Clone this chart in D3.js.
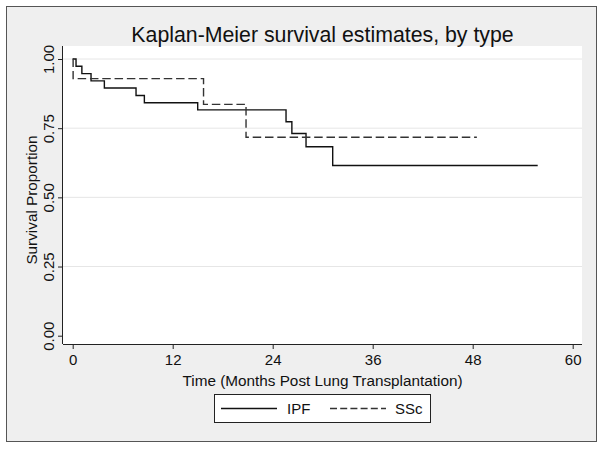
<!DOCTYPE html>
<html><head><meta charset="utf-8">
<script src="https://cdn.jsdelivr.net/npm/d3@7"></script>
<style>body{margin:0;background:#fff}svg{display:block;font-family:"Liberation Sans",Arial,sans-serif}</style>
</head><body><svg id="c" width="603" height="449"></svg>
<script>
// IPF step curve: event times (months) and survival after each step
const ipfTimes = [0, 0.4, 1.1, 2.2, 3.8, 7.6, 8.6, 15.0, 25.6, 26.3, 28.0, 31.2, 55.8];
const ipfSurv  = [1.0, 0.974, 0.947, 0.921, 0.895, 0.868, 0.842, 0.816, 0.773, 0.731, 0.683, 0.615, 0.615];
// SSc step curve
const sscTimes = [0, 0.05, 15.7, 20.8, 48.5];
const sscSurv  = [1.0, 0.929, 0.836, 0.717, 0.717];
const xTicks = [0, 12, 24, 36, 48, 60];
const yTicks = [0, 0.25, 0.5, 0.75, 1.0];
const seriesNames = ["IPF", "SSc"];

const svg = d3.select("#c");
svg.append("rect").attr("x",6.5).attr("y",6.5).attr("width",590).attr("height",435)
  .attr("fill","#efefef").attr("stroke","#555").attr("stroke-width",1);

const L=63, R=582, T=46, B=344;
svg.append("rect").attr("x",L).attr("y",T).attr("width",R-L).attr("height",B-T).attr("fill","#fff");

const x = d3.scaleLinear().domain([0,60]).range([72.7,572.7]);
const y = d3.scaleLinear().domain([0,1]).range([335.7,59]);

// gridlines
svg.append("g").selectAll("line").data(yTicks.filter(d=>d>0)).join("line")
  .attr("x1",L).attr("x2",R).attr("y1",d=>y(d)).attr("y2",d=>y(d))
  .attr("stroke","#e6e6e6").attr("stroke-width",1);

// axes
const xa = svg.append("g").attr("transform",`translate(0,${B})`)
  .call(d3.axisBottom(x).tickValues(xTicks).tickSize(5).tickPadding(5).tickFormat(d3.format("d")));
xa.select(".domain").attr("d",`M${L},0.5H${R}`).attr("stroke","#222");
xa.selectAll(".tick line").attr("stroke","#222");
xa.selectAll("text").attr("font-size",15).attr("fill","#111").attr("font-family","Liberation Sans, Arial");

const ya = svg.append("g").attr("transform",`translate(${L},0)`)
  .call(d3.axisLeft(y).tickValues(yTicks).tickSize(5).tickFormat(d3.format(".2f")));
ya.select(".domain").attr("d",`M-0.5,${T}V${B}`).attr("stroke","#222");
ya.selectAll(".tick line").attr("stroke","#222");
ya.selectAll("text").attr("font-size",15).attr("fill","#111").attr("font-family","Liberation Sans, Arial")
  .attr("transform","rotate(-90)").attr("text-anchor","middle").attr("x",0).attr("y",-9).attr("dy","0");

// curves
const line = d3.line().x(d=>x(d[0])).y(d=>y(d[1])).curve(d3.curveStepAfter);
svg.append("path").datum(ipfTimes.map((t,i)=>[t,ipfSurv[i]]))
  .attr("d",line).attr("fill","none").attr("stroke","#111").attr("stroke-width",1.4);
svg.append("path").datum(sscTimes.map((t,i)=>[t,sscSurv[i]]))
  .attr("d",line).attr("fill","none").attr("stroke","#333").attr("stroke-width",1.4)
  .attr("stroke-dasharray","8.5,3.8");

// titles
svg.append("text").attr("x",322.5).attr("y",42).attr("text-anchor","middle")
  .attr("font-size",21.3).attr("fill","#111").text("Kaplan-Meier survival estimates, by type");
svg.append("text").attr("x",322.5).attr("y",386).attr("text-anchor","middle")
  .attr("font-size",15.3).attr("fill","#111").text("Time (Months Post Lung Transplantation)");
svg.append("text").attr("transform","translate(37,200) rotate(-90)").attr("text-anchor","middle")
  .attr("font-size",15.3).attr("fill","#111").text("Survival Proportion");

// legend
const lg = svg.append("g");
lg.append("rect").attr("x",214.5).attr("y",394.5).attr("width",216).attr("height",28)
  .attr("fill","#fff").attr("stroke","#222").attr("stroke-width",1);
const items = [{x1:221,x2:277,tx:287,dash:null},{x1:330,x2:386,tx:395,dash:"7,3.2"}];
items.forEach((it,i)=>{
  lg.append("line").attr("x1",it.x1).attr("x2",it.x2).attr("y1",408.5).attr("y2",408.5)
    .attr("stroke", i? "#333":"#111").attr("stroke-width",1.4).attr("stroke-dasharray",it.dash);
  lg.append("text").attr("x",it.tx).attr("y",414).attr("font-size",15).attr("fill","#111").text(seriesNames[i]);
});
</script></body></html>
